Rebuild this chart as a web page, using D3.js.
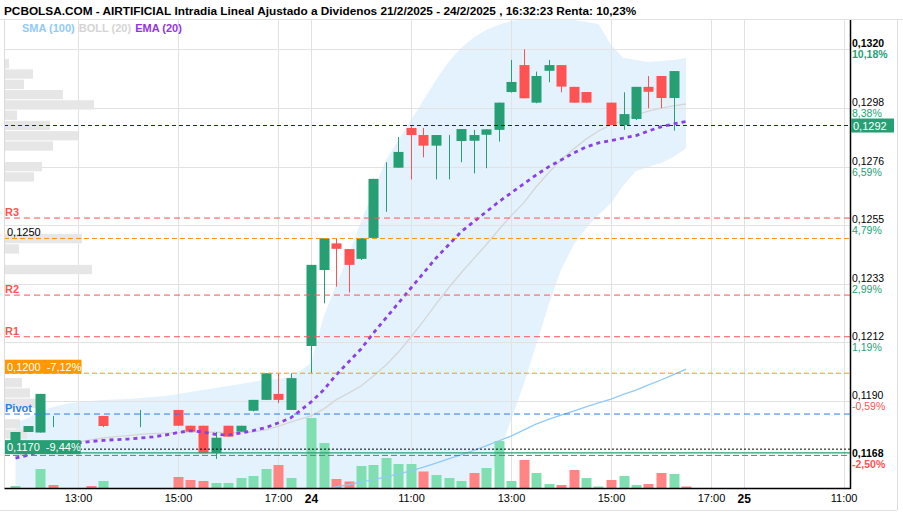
<!DOCTYPE html>
<html>
<head>
<meta charset="utf-8">
<script src="https://cdn.jsdelivr.net/npm/d3@7"></script>
<style>
body { margin: 0; background: #fff; }
svg { display: block; font-family: "Liberation Sans", Arial, sans-serif; }
</style>
</head>
<body>
<script>
// sessions on the x axis, 15 minute bars
var sessionDays = ["21", "24", "25"];
var sessionOpen = ["11:45", "09:00", "09:00"];
var sessionSlot = [0, 23.64, 58.25];

// [open, high, low, close], null = no trades in that bar
var candles21 = [
    [0.11735, 0.11794, 0.11735, 0.11794], [0.11794, 0.11816, 0.11794, 0.11816],
    [0.11792, 0.11934, 0.11792, 0.11934], [0.11842, 0.11853, 0.11812, 0.11842],
    null, null, null,
    [0.11853, 0.11853, 0.11812, 0.11816],
    null, null,
    [0.11841, 0.11875, 0.11812, 0.11841],
    null, null,
    [0.11875, 0.11875, 0.11817, 0.11817], [0.11817, 0.11817, 0.11795, 0.11795],
    [0.11817, 0.11817, 0.11716, 0.11716], [0.11716, 0.11794, 0.11695, 0.11773],
    [0.11817, 0.11817, 0.11777, 0.11777], [0.11795, 0.11817, 0.11795, 0.11817],
    [0.11872, 0.11912, 0.11870, 0.11912], [0.11912, 0.12010, 0.11912, 0.12010],
    [0.11934, 0.12010, 0.11900, 0.11912], [0.11875, 0.12010, 0.11875, 0.11992]
];
var candles24 = [
    [0.12110, 0.12408, 0.12010, 0.12408], [0.12389, 0.12506, 0.12267, 0.12506],
    [0.12487, 0.12506, 0.12328, 0.12467], [0.12466, 0.12466, 0.12306, 0.12408],
    [0.12430, 0.12506, 0.12426, 0.12506], [0.12507, 0.12724, 0.12507, 0.12724],
    [0.12771, 0.12785, 0.12603, 0.12771], [0.12765, 0.12878, 0.12765, 0.12823],
    [0.12911, 0.12918, 0.12722, 0.12885], [0.12885, 0.12911, 0.12803, 0.12846],
    [0.12846, 0.12885, 0.12722, 0.12885], [0.12885, 0.12885, 0.12722, 0.12885],
    [0.12863, 0.12907, 0.12785, 0.12907], [0.12864, 0.12904, 0.12744, 0.12885],
    [0.12886, 0.12906, 0.12763, 0.12906], [0.12904, 0.13004, 0.12861, 0.13004],
    [0.13043, 0.13161, 0.13041, 0.13080], [0.13142, 0.13200, 0.13020, 0.13020],
    [0.13004, 0.13118, 0.13002, 0.13102], [0.13121, 0.13161, 0.13079, 0.13142],
    [0.13142, 0.13142, 0.13042, 0.13063], [0.13062, 0.13062, 0.13004, 0.13004],
    [0.13043, 0.13043, 0.13004, 0.13004],
    null,
    [0.13004, 0.13004, 0.12922, 0.12922], [0.12922, 0.13042, 0.12904, 0.12962],
    [0.12944, 0.13062, 0.12940, 0.13062], [0.13062, 0.13102, 0.12983, 0.13044],
    [0.13102, 0.13102, 0.12983, 0.13021], [0.13021, 0.13120, 0.12901, 0.13120],
    [0.12920, 0.12920, 0.12920, 0.12920]
];

// volume (thousands) and direction, 1 = up
var vol21 = [2, 0, 19, 3, 0, 0, 2, 7, 0, 0, 0, 0, 0, 11, 8, 7, 5, 5, 10, 12, 19, 23, 10];
var volUp21 = [1, 1, 1, 0, 1, 1, 0, 1, 1, 1, 1, 1, 1, 0, 0, 0, 1, 1, 1, 1, 1, 0, 1];
var vol24 = [70, 45, 9, 6.5, 22, 23, 30, 24, 24, 16.5, 13, 10, 7, 15, 20, 47, 7, 28, 15, 4, 3, 18, 10, 1.5, 8, 12, 3, 4, 15, 14, 1.5];
var volUp24 = [1, 1, 0, 0, 1, 1, 1, 1, 1, 0, 1, 1, 1, 0, 1, 1, 1, 0, 1, 1, 0, 0, 1, 1, 0, 1, 1, 0, 0, 1, 0];

var ema21 = [0.11698, 0.11709, 0.11724, 0.11735, 0.11746, 0.11754, 0.11759, 0.11763, 0.11766, 0.11768, 0.11772, 0.11776, 0.11783, 0.11792, 0.11799, 0.11794, 0.11785, 0.11783, 0.11790, 0.11799, 0.11810, 0.11827, 0.11845];
var ema24 = [0.11904, 0.11948, 0.12003, 0.12051, 0.12099, 0.12158, 0.12213, 0.12268, 0.12323, 0.12378, 0.12433, 0.12481, 0.12529, 0.12566, 0.12602, 0.12639, 0.12672, 0.12705, 0.12738, 0.12768, 0.12793, 0.12819, 0.12841, 0.12856, 0.12865, 0.12874, 0.12883, 0.12900, 0.12915, 0.12926, 0.12935];

var sma24 = [0.11570, 0.11581, 0.11592, 0.11601, 0.11610, 0.11619, 0.11629, 0.11640, 0.11651, 0.11665, 0.11680, 0.11695, 0.11710, 0.11726, 0.11743, 0.11761, 0.11779, 0.11801, 0.11823, 0.11840, 0.11856, 0.11871, 0.11886, 0.11901, 0.11915, 0.11932, 0.11948, 0.11967, 0.11985, 0.12005, 0.12025];

var bbUp21 = [0.11827, 0.11845, 0.11871, 0.11886, 0.11897, 0.11904, 0.11908, 0.11912, 0.11913, 0.11915, 0.11919, 0.11923, 0.11926, 0.11934, 0.11941, 0.11948, 0.11956, 0.11963, 0.11970, 0.11978, 0.11985, 0.11989, 0.11996];
var bbMid21 = [0.11705, 0.11715, 0.11728, 0.11740, 0.11750, 0.11758, 0.11765, 0.11772, 0.11777, 0.11781, 0.11785, 0.11788, 0.11790, 0.11792, 0.11794, 0.11794, 0.11793, 0.11792, 0.11792, 0.11795, 0.11802, 0.11815, 0.11830];
var bbLow21 = [0.11583, 0.11580, 0.11575, 0.11570, 0.11568, 0.11566, 0.11565, 0.11565, 0.11566, 0.11567, 0.11568, 0.11570, 0.11572, 0.11574, 0.11576, 0.11578, 0.11578, 0.11577, 0.11575, 0.11573, 0.11570, 0.11566, 0.11560];
var bbUp24 = [0.12047, 0.12216, 0.12334, 0.12444, 0.12566, 0.12683, 0.12793, 0.12867, 0.12940, 0.13014, 0.13087, 0.13153, 0.13205, 0.13242, 0.13271, 0.13289, 0.13304, 0.13311, 0.13315, 0.13315, 0.13311, 0.13308, 0.13300, 0.13293, 0.13216, 0.13168, 0.13161, 0.13153, 0.13157, 0.13161, 0.13168];
var bbMid24 = [0.11853, 0.11878, 0.11912, 0.11937, 0.11963, 0.12000, 0.12040, 0.12088, 0.12143, 0.12202, 0.12264, 0.12323, 0.12378, 0.12430, 0.12481, 0.12536, 0.12588, 0.12635, 0.12694, 0.12746, 0.12793, 0.12834, 0.12870, 0.12900, 0.12922, 0.12940, 0.12959, 0.12973, 0.12984, 0.12992, 0.12999];
var bbLow24 = [0.11520, 0.11480, 0.11460, 0.11450, 0.11440, 0.11430, 0.11430, 0.11440, 0.11460, 0.11490, 0.11520, 0.11540, 0.11560, 0.11570, 0.11588, 0.11709, 0.11838, 0.11967, 0.12114, 0.12261, 0.12389, 0.12481, 0.12543, 0.12591, 0.12635, 0.12701, 0.12753, 0.12768, 0.12782, 0.12804, 0.12837];

// volume at price, bins from the top
var profileTop = 0.13164;
var profileStep = 0.000378;
var profileVol = [4, 28, 19, 58, 89, 12, 45, 73, 48, 0, 37, 29, 0, 0, 0, 0, 0, 77, 14, 0, 87, 0, 0, 0, 0, 0, 0, 0, 0, 0, 0, 17, 25, 35, 0, 15, 22, 10];

// horizontal levels
var levelNames = ["R3", "alert1250", "R2", "R1", "alert1200", "Pivot", "min", "stop", "stopDash"];
var levelValues = [0.12580, 0.12505, 0.12297, 0.12144, 0.12010, 0.11860, 0.11731, 0.11717, 0.11708];
var levelLabels = ["R3", "0,1250", "R2", "R1", "0,1200|-7,12%", "Pivot", "0,1170|-9,44%", "", ""];

var lastPrice = 0.1292;
var lastLabel = "0,1292";
var lowPrice = 0.1168;
var lowLabel = ["0,1168", "-2,50%"];

var priceTicks = [0.13200, 0.12984, 0.12769, 0.12554, 0.12338, 0.12123, 0.11909];
var priceTickLabels = ["0,1320", "0,1298", "0,1276", "0,1255", "0,1233", "0,1212", "0,1190"];
var pctTickLabels = ["10,18%", "8,38%", "6,59%", "4,79%", "2,99%", "1,19%", "-0,59%"];

var xTickDay = [0, 0, 0, 1, 1, 1, 1, 1, 2, 2];
var xTickTime = ["13:00", "15:00", "17:00", "09:00", "11:00", "13:00", "15:00", "17:00", "09:00", "11:00"];

var title = "PCBOLSA.COM - AIRTIFICIAL Intradia Lineal Ajustado a Dividenos 21/2/2025 - 24/2/2025 , 16:32:23 Renta: 10,23%";

var W = 903, H = 512;
var pLeft = 4, pRight = 850, pTop = 20, pBottom = 488;
var green = "#279f75", red = "#ff5252";

var svg = d3.select("body").append("svg").attr("width", W).attr("height", H);

var x = d3.scaleLinear().domain([-0.92, 66.76]).range([pLeft, pRight]);
var y = d3.scaleLinear().domain([0.11909, 0.1320]).range([400.7, 49.3]);
var yVol = d3.scaleLinear().domain([0, 70]).range([pBottom, 418]);
var wProf = d3.scaleLinear().domain([0, 89]).range([0, 89]);

function toMin(t) {
    var p = t.split(":");
    return +p[0] * 60 + +p[1];
}
function slot(d, t) {
    return sessionSlot[d] + (toMin(t) - toMin(sessionOpen[d])) / 15;
}

// merge both days into one list of bars
var bars = [];
[[candles21, vol21, volUp21, ema21, bbUp21, bbMid21, bbLow21, null],
 [candles24, vol24, volUp24, ema24, bbUp24, bbMid24, bbLow24, sma24]].forEach(function(day, d) {
    day[0].forEach(function(c, i) {
        bars.push({
            s: sessionSlot[d] + i, c: c, v: day[1][i], up: day[2][i],
            ema: day[3][i], bu: day[4][i], bm: day[5][i], bl: day[6][i],
            sma: day[7] ? day[7][i] : null
        });
    });
});

svg.append("defs").append("clipPath").attr("id", "plotclip")
    .append("rect").attr("x", pLeft).attr("y", pTop)
    .attr("width", pRight - pLeft).attr("height", pBottom - pTop);

var plot = svg.append("g").attr("clip-path", "url(#plotclip)");

// bollinger band
plot.append("path")
    .datum(bars)
    .attr("fill", "#e3f2fd")
    .attr("d", d3.area()
        .x(function(d) { return x(d.s); })
        .y0(function(d) { return y(d.bl); })
        .y1(function(d) { return y(d.bu); }));

// grid
var tickSlots = xTickDay.map(function(d, i) { return slot(d, xTickTime[i]); });
plot.selectAll(".vgrid").data(tickSlots).enter().append("line")
    .attr("x1", function(d) { return Math.round(x(d)) + 0.5; })
    .attr("x2", function(d) { return Math.round(x(d)) + 0.5; })
    .attr("y1", pTop).attr("y2", pBottom)
    .attr("stroke", "#e2e2e2");
plot.selectAll(".hgrid").data(priceTicks).enter().append("line")
    .attr("x1", pLeft).attr("x2", pRight)
    .attr("y1", function(d) { return Math.round(y(d)) + 0.5; })
    .attr("y2", function(d) { return Math.round(y(d)) + 0.5; })
    .attr("stroke", "#e2e2e2");

// volume profile
plot.selectAll(".prof").data(profileVol).enter().append("rect")
    .attr("x", pLeft + 1)
    .attr("y", function(d, i) { return y(profileTop - i * profileStep); })
    .attr("width", function(d) { return wProf(d); })
    .attr("height", function(d, i) {
        return y(profileTop - (i + 1) * profileStep) - y(profileTop - i * profileStep) - 1;
    })
    .attr("fill", "#e6e6e6");

// volume
plot.selectAll(".vol").data(bars.filter(function(d) { return d.v > 0; })).enter().append("rect")
    .attr("x", function(d) { return Math.round(x(d.s)) - 4.5; })
    .attr("y", function(d) { return yVol(d.v); })
    .attr("width", 10)
    .attr("height", function(d) { return pBottom - yVol(d.v); })
    .attr("fill", function(d) { return d.up ? "#80dfb0" : "#ff8585"; });

// sma and bollinger middle
plot.append("path")
    .datum(bars.filter(function(d) { return d.sma != null; }))
    .attr("fill", "none").attr("stroke", "#90caf9").attr("stroke-width", 1.3)
    .attr("d", d3.line()
        .x(function(d) { return x(d.s); })
        .y(function(d) { return y(d.sma); }));
plot.append("path")
    .datum(bars)
    .attr("fill", "none").attr("stroke", "#d6d6d6").attr("stroke-width", 1.3)
    .attr("d", d3.line()
        .x(function(d) { return x(d.s); })
        .y(function(d) { return y(d.bm); }));

// levels
var levelStyle = {
    R3: [red, "6,4", 1], alert1250: ["#ff9800", "5,3", 1], R2: [red, "6,4", 1],
    R1: [red, "6,4", 1], alert1200: ["#ff9800", "5,3", 1], Pivot: ["#2b7de9", "6,4", 1],
    min: ["#000", "2,2", 1], stop: [green, null, 1.3], stopDash: [green, "6,3", 1]
};
levelValues.forEach(function(v, i) {
    var st = levelStyle[levelNames[i]];
    svg.append("line")
        .attr("x1", pLeft).attr("x2", pRight)
        .attr("y1", y(v)).attr("y2", y(v))
        .attr("stroke", st[0]).attr("stroke-width", st[2])
        .attr("stroke-dasharray", st[1]);
});
svg.append("line")
    .attr("x1", pLeft).attr("x2", pRight)
    .attr("y1", y(lastPrice)).attr("y2", y(lastPrice))
    .attr("stroke", "#1a1aa6").attr("stroke-width", 1.2)
    .attr("stroke-dasharray", "4,3");

// candles
var cg = plot.selectAll(".candle").data(bars.filter(function(d) { return d.c; })).enter()
    .append("g");
cg.append("line")
    .attr("x1", function(d) { return Math.round(x(d.s)) + 0.5; })
    .attr("x2", function(d) { return Math.round(x(d.s)) + 0.5; })
    .attr("y1", function(d) { return y(d.c[1]); })
    .attr("y2", function(d) { return y(d.c[2]); })
    .attr("stroke", function(d) { return d.c[3] >= d.c[0] ? green : red; });
cg.append("rect")
    .attr("x", function(d) { return Math.round(x(d.s)) - 4.5; })
    .attr("y", function(d) { return y(Math.max(d.c[0], d.c[3])); })
    .attr("width", 10)
    .attr("height", function(d) { return Math.abs(y(d.c[0]) - y(d.c[3])); })
    .attr("fill", function(d) { return d.c[3] >= d.c[0] ? green : red; });

// ema
plot.append("path")
    .datum(bars)
    .attr("fill", "none").attr("stroke", "#8b3fe6").attr("stroke-width", 2.8)
    .attr("stroke-dasharray", "4,4")
    .attr("d", d3.line()
        .x(function(d) { return x(d.s); })
        .y(function(d) { return y(d.ema); }));

// frame
svg.append("line").attr("x1", 0).attr("x2", W).attr("y1", pTop - 0.5).attr("y2", pTop - 0.5).attr("stroke", "#e2e2e2");
svg.append("line").attr("x1", pLeft + 0.5).attr("x2", pLeft + 0.5).attr("y1", pTop).attr("y2", pBottom).attr("stroke", "#dcdcdc");
svg.append("line").attr("x1", 897.5).attr("x2", 897.5).attr("y1", pTop).attr("y2", 510).attr("stroke", "#dcdcdc");
svg.append("line").attr("x1", 0).attr("x2", 897).attr("y1", 510.5).attr("y2", 510.5).attr("stroke", "#e2e2e2");
svg.append("line").attr("x1", pRight + 0.5).attr("x2", pRight + 0.5).attr("y1", pTop).attr("y2", pBottom + 1).attr("stroke", "#000").attr("stroke-width", 1.5);

// x axis
var xAxis = svg.append("g")
    .attr("transform", "translate(0," + pBottom + ")")
    .call(d3.axisBottom(x)
        .tickValues(tickSlots)
        .tickSize(0)
        .tickSizeOuter(0)
        .tickPadding(6)
        .tickFormat(function(d, i) {
            return (xTickTime[i] === sessionOpen[xTickDay[i]] && xTickDay[i] > 0) ? sessionDays[xTickDay[i]] : xTickTime[i];
        }));
xAxis.select(".domain").attr("stroke", "#000").attr("stroke-width", 1.5);
xAxis.selectAll("text")
    .attr("fill", "#000")
    .style("font-family", "Liberation Sans, Arial, sans-serif")
    .style("font-size", function() { return /:/.test(this.textContent) ? "11px" : "12px"; })
    .style("font-weight", function() { return /:/.test(this.textContent) ? "normal" : "bold"; });

// price axis
var dayHigh = d3.max(bars.filter(function(d) { return d.c; }), function(d) { return d.c[1]; });
var ya = svg.append("g").attr("transform", "translate(" + (pRight + 2) + ",0)")
    .style("font-size", "10.5px");
priceTicks.forEach(function(p, i) {
    var g = ya.append("g").attr("transform", "translate(0," + y(p) + ")");
    var strong = Math.abs(p - dayHigh) < 1e-6;
    g.append("text").attr("y", -2).text(priceTickLabels[i])
        .attr("fill", "#000").style("font-weight", strong ? "bold" : "normal");
    g.append("text").attr("y", 9).text(pctTickLabels[i])
        .attr("fill", pctTickLabels[i][0] === "-" ? red : green)
        .style("font-weight", strong ? "bold" : "normal");
});
var lg = ya.append("g").attr("transform", "translate(0," + y(lowPrice) + ")");
lg.append("text").attr("y", -6.5).text(lowLabel[0]).attr("fill", "#000").style("font-weight", "bold");
lg.append("text").attr("y", 4.5).text(lowLabel[1]).attr("fill", red).style("font-weight", "bold");

// last price tag
svg.append("rect")
    .attr("x", pRight + 1).attr("y", y(lastPrice) - 7)
    .attr("width", 43).attr("height", 14)
    .attr("fill", green);
svg.append("text")
    .attr("x", pRight + 3).attr("y", y(lastPrice) + 4)
    .attr("fill", "#fff").style("font-size", "11px")
    .text(lastLabel);

// level labels on the left
var labelColor = { R3: red, R2: red, R1: red, Pivot: "#2b7de9", alert1250: "#000" };
levelNames.forEach(function(n, i) {
    var lab = levelLabels[i];
    if (!lab) return;
    var yy = y(levelValues[i]);
    if (lab.indexOf("|") >= 0) {
        var parts = lab.split("|");
        var boxColor = n === "min" ? green : "#ff9800";
        var top0 = n === "min" ? yy - 9 : yy - 13.5;
        var box = svg.append("rect").attr("x", pLeft + 1).attr("y", top0).attr("height", 14).attr("fill", boxColor);
        var t = svg.append("text").attr("x", pLeft + 3).attr("y", top0 + 11)
            .attr("fill", "#fff").style("font-size", "11px");
        t.append("tspan").text(parts[0]);
        t.append("tspan").attr("dx", 6).text(parts[1]);
        box.attr("width", t.node().getComputedTextLength() + 8);
    } else {
        svg.append("text")
            .attr("x", n === "alert1250" ? pLeft + 3 : pLeft + 1)
            .attr("y", yy - 2)
            .attr("fill", labelColor[n])
            .style("font-size", "11px")
            .style("font-weight", n === "alert1250" ? "normal" : "bold")
            .text(lab);
    }
});

// title and legend
svg.append("text")
    .attr("x", 4).attr("y", 15)
    .style("font-size", "11.8px").style("font-weight", "bold")
    .attr("fill", "#000")
    .text(title);

var legendNames = ["SMA (100)", "BOLL (20)", "EMA (20)"];
var legendColors = ["#90caf9", "#d4d4d4", "#9333ea"];
var lx = 22;
legendNames.forEach(function(n, i) {
    var t = svg.append("text")
        .attr("x", lx).attr("y", 32)
        .style("font-size", "11px").style("font-weight", "bold")
        .attr("fill", legendColors[i])
        .text(n);
    lx += t.node().getComputedTextLength() + 4;
});
</script>
</body>
</html>
